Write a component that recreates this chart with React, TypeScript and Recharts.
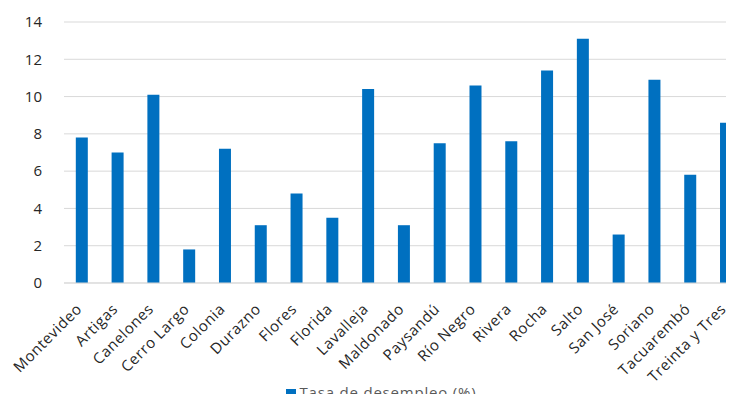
import { Bar, BarChart, CartesianGrid, Legend, XAxis, YAxis } from "recharts"

const departamentos = [
  "Montevideo", "Artigas", "Canelones", "Cerro Largo", "Colonia", "Durazno", "Flores",
  "Florida", "Lavalleja", "Maldonado", "Paysandú", "Río Negro", "Rivera", "Rocha",
  "Salto", "San José", "Soriano", "Tacuarembó", "Treinta y Tres",
]
const tasa = [7.8, 7.0, 10.1, 1.8, 7.2, 3.1, 4.8, 3.5, 10.4, 3.1, 7.5, 10.6, 7.6, 11.4, 13.1, 2.6, 10.9, 5.8, 8.6]
const yTicks = [0, 2, 4, 6, 8, 10, 12, 14]

const data = departamentos.map((d, i) => ({ name: d, tasa: tasa[i] }))

const FONT = "'Open Sans', sans-serif"

function RotatedTick(props: any) {
  const { x, y, payload } = props
  return (
    <text
      transform={`translate(${x + 1},${y + 19}) rotate(-45)`}
      textAnchor="end"
      fontSize={15}
      letterSpacing={0.6}
      fontFamily={FONT}
      fill="#262626"
    >
      {payload.value}
    </text>
  )
}

export default function App() {
  return (
    <div style={{ margin: -8, width: 734, height: 402, overflow: "hidden", background: "#fff" }}>
      <BarChart
        width={750}
        height={402}
        data={data}
        margin={{ top: 22, right: 6, left: 0, bottom: 0 }}
        barCategoryGap="33%"
      >
        <CartesianGrid vertical={false} stroke="#d9d9d9" />
        <XAxis
          dataKey="name"
          interval={0}
          axisLine={{ stroke: "#d9d9d9" }}
          tickLine={false}
          height={99}
          tick={<RotatedTick />}
        />
        <YAxis
          width={64}
          domain={[0, 14]}
          ticks={yTicks}
          axisLine={false}
          tickLine={false}
          tickMargin={16}
          tick={{ fontSize: 15, fontFamily: FONT, fill: "#262626" }}
        />
        <Legend
          verticalAlign="bottom"
          iconType="square"
          iconSize={10}
          wrapperStyle={{ fontFamily: FONT, fontSize: 15, letterSpacing: 0.8, color: "#595959", paddingLeft: 14, bottom: 0 }}
          formatter={(v: string) => <span style={{ color: "#595959" }}>{v}</span>}
        />
        <Bar dataKey="tasa" name="Tasa de desempleo (%)" fill="#0070c0" isAnimationActive={false} />
      </BarChart>
    </div>
  )
}
